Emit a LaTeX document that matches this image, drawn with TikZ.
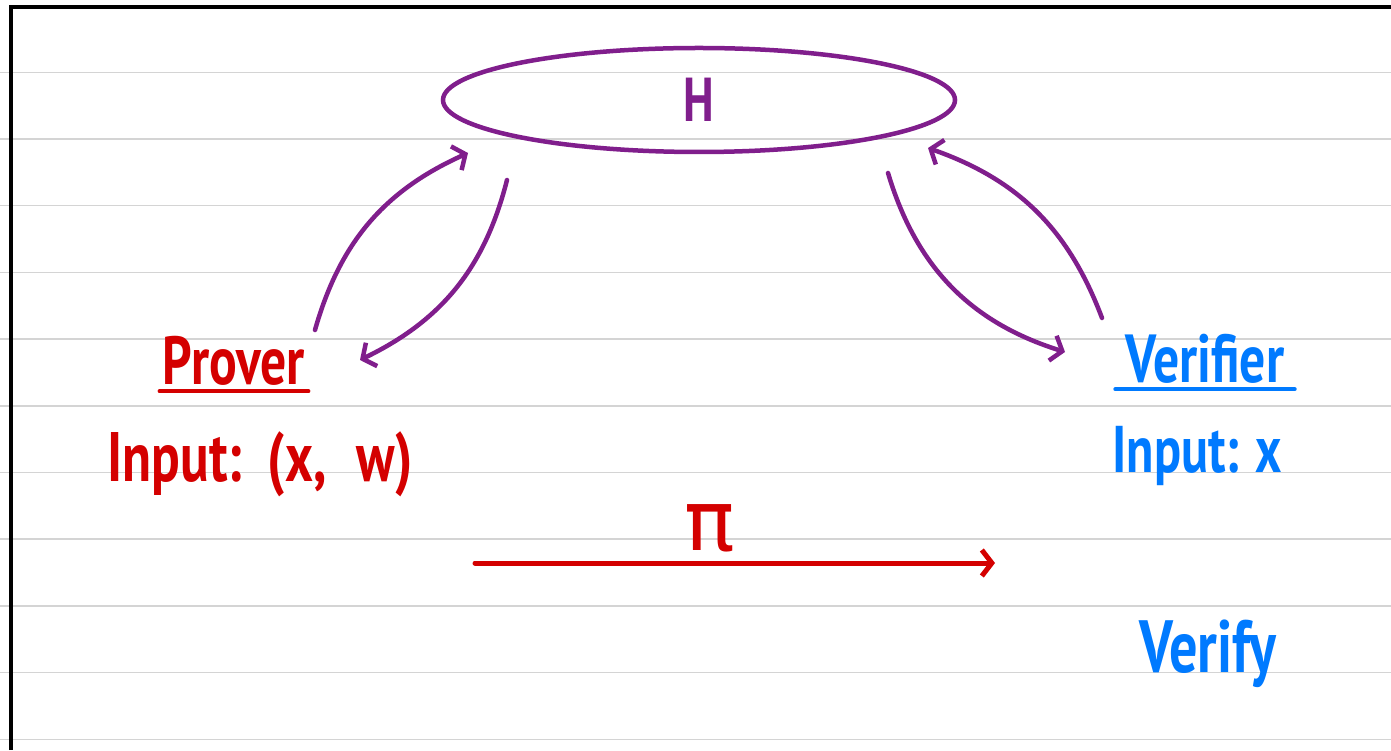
\documentclass[tikz,border=0pt]{standalone}
\usepackage{fontspec}
\usepackage{tikz}
\usetikzlibrary{arrows.meta, calc, shapes.geometric}
\newfontfamily\handfont[FakeStretch=0.76]{PT Sans}
\newfontfamily\greekfont{DejaVu Sans}
\definecolor{NoteGray}{RGB}{212, 212, 212}
\definecolor{HashPurple}{RGB}{128, 30, 140}
\definecolor{ProverRed}{RGB}{212, 0, 0}
\definecolor{VerifierBlue}{RGB}{0, 122, 255}

\begin{document}
\begin{tikzpicture}[x=1pt,y=1pt,
  rule/.style={NoteGray, line width=1.5pt},
  partyname/.style={anchor=base, inner xsep=3pt, inner ysep=5pt, font=\handfont\bfseries\fontsize{68}{72}\selectfont},
  inputtext/.style={anchor=base, inner sep=0pt, font=\handfont\bfseries\fontsize{66}{70}\selectfont},
  query/.style={HashPurple, line width=4.5pt, line cap=round, -{Straight Barb[length=10pt,width=26pt]}},
  proof/.style={ProverRed, line width=5pt, line cap=round, -{Straight Barb[length=10pt,width=26pt]}}
]
  \path[use as bounding box] (0,0) rectangle (1391,750);
  \fill[white] (0,0) rectangle (1391,750);

  % ruled paper
  \foreach \k in {0,...,10}{
    \draw[rule] (0,{677.7-66.7*\k}) -- (1391,{677.7-66.7*\k});
  }
  \draw[black, line width=4.5pt] (11,0) -- (11,743) -- (1391,743);

  \node[ellipse, draw=HashPurple, line width=4.5pt, minimum width=512, minimum height=104,
        text=HashPurple, font=\handfont\bfseries\fontsize{62}{66}\selectfont] (H) at (699,650) {H};

  \node[partyname, text=ProverRed] (prover) at (234,365) {Prover};
  \draw[ProverRed, line width=4.5pt, line cap=round] (prover.south west) -- (prover.south east);
  \node[inputtext, text=ProverRed, font=\handfont\bfseries\fontsize{70}{74}\selectfont] (pinput) at (260,268)
    {Input:\hspace{26pt}(x,\hspace{30pt}w)};

  \node[partyname, text=VerifierBlue, inner xsep=10pt] (verifier) at (1205,367) {Verifier};
  \draw[VerifierBlue, line width=4.5pt, line cap=round] (verifier.south west) -- (verifier.south east);
  \node[inputtext, text=VerifierBlue] (vinput) at (1197,277) {Input:\hspace{16pt}x};
  \node[partyname, text=VerifierBlue, font=\handfont\bfseries\fontsize{74}{78}\selectfont] (verify) at (1208,78) {Verify};

  % oracle queries
  \draw[query] ($(prover.base)+(81,55)$) to[bend left=25] ($(H.center)+(-231,-53)$);
  \draw[query] ($(H.center)+(-192,-80)$) to[bend left=25] ($(prover.base)+(126,25)$);
  \draw[query] ($(H.center)+(189,-73)$) to[bend right=28] ($(verifier.base)+(-140,31)$);
  \draw[query] ($(verifier.base)+(-103,65)$) to[bend right=25] ($(H.center)+(229,-48)$);

  % proof message
  \coordinate (send) at (475,187);
  \coordinate (recv) at (995,187);
  \draw[proof] (send) -- (recv);
  \node[text=ProverRed, font=\greekfont\fontsize{84}{88}\selectfont] (pi) at (710,222) {π};
\end{tikzpicture}
\end{document}
